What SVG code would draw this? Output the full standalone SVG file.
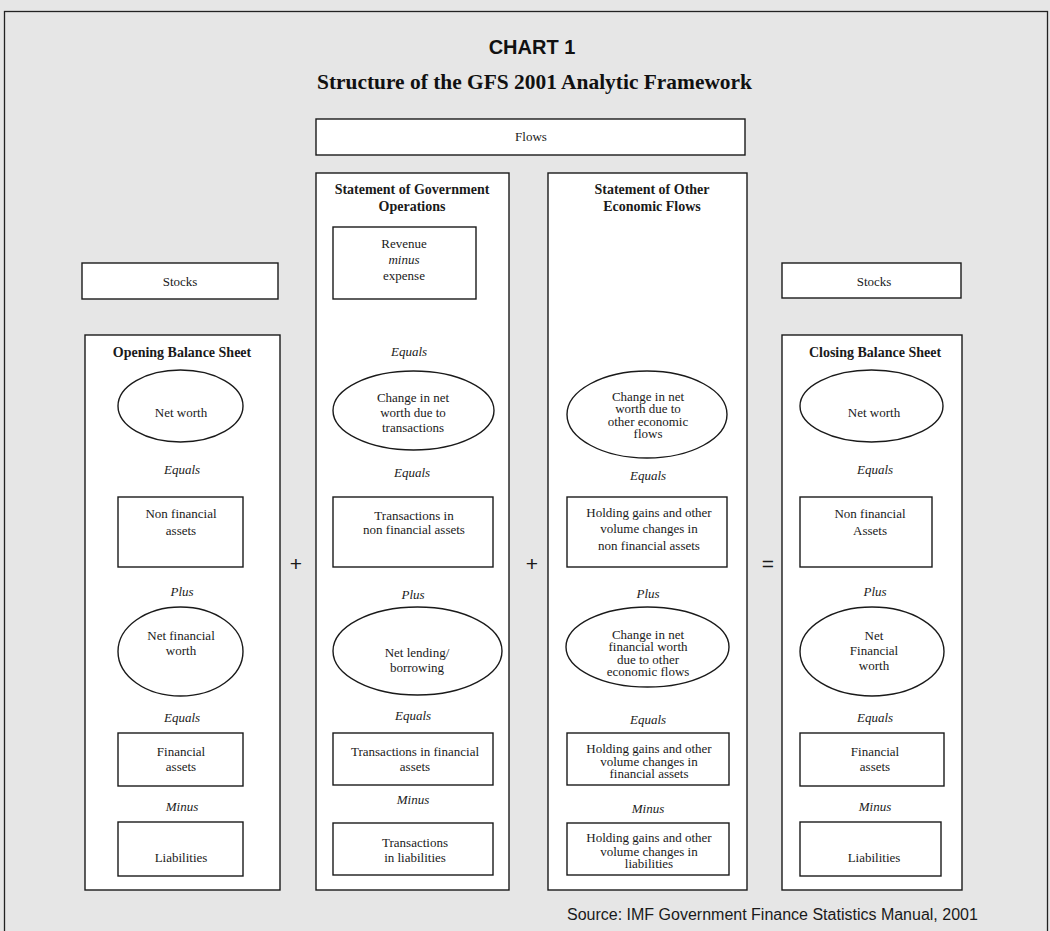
<svg xmlns="http://www.w3.org/2000/svg" width="1050" height="931" viewBox="0 0 1050 931">
<style>
.bg{fill:#e6e6e6}
.frame{fill:none;stroke:#222;stroke-width:1.3}
.box{fill:#fff;stroke:#1a1a1a;stroke-width:1.4}
.t{font-family:"Liberation Serif","Times New Roman",serif;font-size:13px;fill:#1a1a1a;text-anchor:middle}
.i{font-style:italic}
.h{font-weight:bold;font-size:14px}
.op{font-family:"Liberation Sans",Arial,sans-serif;font-size:21px;fill:#1a1a1a;text-anchor:middle}
</style>
<rect class="bg" x="0" y="0" width="1050" height="931"/>
<rect class="frame" x="4.5" y="11.5" width="1043" height="930"/>
<g id="title">
<text x="532" y="54" style="font-family:'Liberation Sans',Arial,sans-serif;font-weight:bold;font-size:20px;fill:#111;text-anchor:middle">CHART 1</text>
<text x="534.5" y="89" textLength="435" lengthAdjust="spacingAndGlyphs" style="font-family:'Liberation Serif','Times New Roman',serif;font-weight:bold;font-size:22px;fill:#111;text-anchor:middle">Structure of the GFS 2001 Analytic Framework</text>
</g>
<g id="flows">
<rect class="box" x="316" y="119" width="429" height="36"/>
<text class="t" x="531" y="141">Flows</text>
</g>
<g id="stocks-left">
<rect class="box" x="82" y="263" width="196" height="36"/>
<text class="t" x="180" y="286">Stocks</text>
</g>
<g id="stocks-right">
<rect class="box" x="782" y="263" width="179" height="35"/>
<text class="t" x="874" y="286">Stocks</text>
</g>
<g id="opening-balance-sheet">
<rect class="box" x="85" y="335" width="195" height="555"/>
<text class="t h" x="182" y="357">Opening Balance Sheet</text>
<ellipse class="box" cx="180.5" cy="406" rx="62.5" ry="36"/>
<text class="t" x="181" y="417">Net worth</text>
<text class="t i" x="182" y="474">Equals</text>
<rect class="box" x="118" y="497" width="125" height="70"/>
<text class="t" x="181" y="518">Non financial</text>
<text class="t" x="181" y="535">assets</text>
<text class="t i" x="182" y="596">Plus</text>
<ellipse class="box" cx="180.5" cy="651.5" rx="62.5" ry="44.5"/>
<text class="t" x="181" y="640">Net financial</text>
<text class="t" x="181" y="655">worth</text>
<text class="t i" x="182" y="722">Equals</text>
<rect class="box" x="118" y="733" width="125" height="53"/>
<text class="t" x="181" y="756">Financial</text>
<text class="t" x="181" y="771">assets</text>
<text class="t i" x="182" y="811">Minus</text>
<rect class="box" x="118" y="822" width="125" height="54"/>
<text class="t" x="181" y="862">Liabilities</text>
</g>
<g id="government-operations">
<rect class="box" x="316" y="173" width="193" height="717"/>
<text class="t h" x="412" y="194">Statement of Government</text>
<text class="t h" x="412" y="211">Operations</text>
<rect class="box" x="333" y="227" width="143" height="72"/>
<text class="t" x="404" y="248">Revenue</text>
<text class="t i" x="404" y="264">minus</text>
<text class="t" x="404" y="280">expense</text>
<text class="t i" x="409" y="356">Equals</text>
<ellipse class="box" cx="413.5" cy="410.5" rx="80.5" ry="39.5"/>
<text class="t" x="413" y="402">Change in net</text>
<text class="t" x="413" y="417">worth due to</text>
<text class="t" x="413" y="432">transactions</text>
<text class="t i" x="412" y="477">Equals</text>
<rect class="box" x="333" y="497" width="160" height="70"/>
<text class="t" x="414" y="520">Transactions in</text>
<text class="t" x="414" y="534">non financial assets</text>
<text class="t i" x="413" y="599">Plus</text>
<ellipse class="box" cx="417.5" cy="651" rx="84.5" ry="44"/>
<text class="t" x="417" y="657">Net lending/</text>
<text class="t" x="417" y="672">borrowing</text>
<text class="t i" x="413" y="720">Equals</text>
<rect class="box" x="333" y="733" width="160" height="52"/>
<text class="t" x="415" y="756">Transactions in financial</text>
<text class="t" x="415" y="771">assets</text>
<text class="t i" x="413" y="804">Minus</text>
<rect class="box" x="333" y="823" width="160" height="52"/>
<text class="t" x="415" y="847">Transactions</text>
<text class="t" x="415" y="862">in liabilities</text>
</g>
<g id="other-economic-flows">
<rect class="box" x="548" y="173" width="199" height="717"/>
<text class="t h" x="652" y="194">Statement of Other</text>
<text class="t h" x="652" y="211">Economic Flows</text>
<ellipse class="box" cx="647" cy="414.5" rx="80" ry="43.5"/>
<text class="t" x="648" y="401">Change in net</text>
<text class="t" x="648" y="413">worth due to</text>
<text class="t" x="648" y="426">other economic</text>
<text class="t" x="648" y="438">flows</text>
<text class="t i" x="648" y="480">Equals</text>
<rect class="box" x="567" y="497" width="160" height="70"/>
<text class="t" x="649" y="517">Holding gains and other</text>
<text class="t" x="649" y="533">volume changes in</text>
<text class="t" x="649" y="550">non financial assets</text>
<text class="t i" x="648" y="598">Plus</text>
<ellipse class="box" cx="647.5" cy="647" rx="81.5" ry="40"/>
<text class="t" x="648" y="639">Change in net</text>
<text class="t" x="648" y="651">financial worth</text>
<text class="t" x="648" y="664">due to other</text>
<text class="t" x="648" y="676">economic flows</text>
<text class="t i" x="648" y="724">Equals</text>
<rect class="box" x="567" y="733" width="162" height="52"/>
<text class="t" x="649" y="753">Holding gains and other</text>
<text class="t" x="649" y="766">volume changes in</text>
<text class="t" x="649" y="778">financial assets</text>
<text class="t i" x="648" y="813">Minus</text>
<rect class="box" x="567" y="823" width="162" height="52"/>
<text class="t" x="649" y="842">Holding gains and other</text>
<text class="t" x="649" y="856">volume changes in</text>
<text class="t" x="649" y="868">liabilities</text>
</g>
<g id="closing-balance-sheet">
<rect class="box" x="782" y="335" width="180" height="555"/>
<text class="t h" x="875" y="357">Closing Balance Sheet</text>
<ellipse class="box" cx="871.5" cy="406" rx="71.5" ry="36"/>
<text class="t" x="874" y="417">Net worth</text>
<text class="t i" x="875" y="474">Equals</text>
<rect class="box" x="800" y="497" width="132" height="70"/>
<text class="t" x="870" y="518">Non financial</text>
<text class="t" x="870" y="535">Assets</text>
<text class="t i" x="875" y="596">Plus</text>
<ellipse class="box" cx="872" cy="651.5" rx="72" ry="44.5"/>
<text class="t" x="874" y="640">Net</text>
<text class="t" x="874" y="655">Financial</text>
<text class="t" x="874" y="670">worth</text>
<text class="t i" x="875" y="722">Equals</text>
<rect class="box" x="800" y="733" width="144" height="53"/>
<text class="t" x="875" y="756">Financial</text>
<text class="t" x="875" y="771">assets</text>
<text class="t i" x="875" y="811">Minus</text>
<rect class="box" x="800" y="822" width="141" height="54"/>
<text class="t" x="874" y="862">Liabilities</text>
</g>
<g id="connectors">
<text class="op" x="296" y="571">+</text>
<text class="op" x="532" y="571">+</text>
<text class="op" x="768" y="571">=</text>
</g>
<g id="source">
<text x="567" y="920" style="font-family:'Liberation Sans',Arial,sans-serif;font-size:16px;fill:#1a1a1a">Source: IMF Government Finance Statistics Manual, 2001</text>
</g>
</svg>
